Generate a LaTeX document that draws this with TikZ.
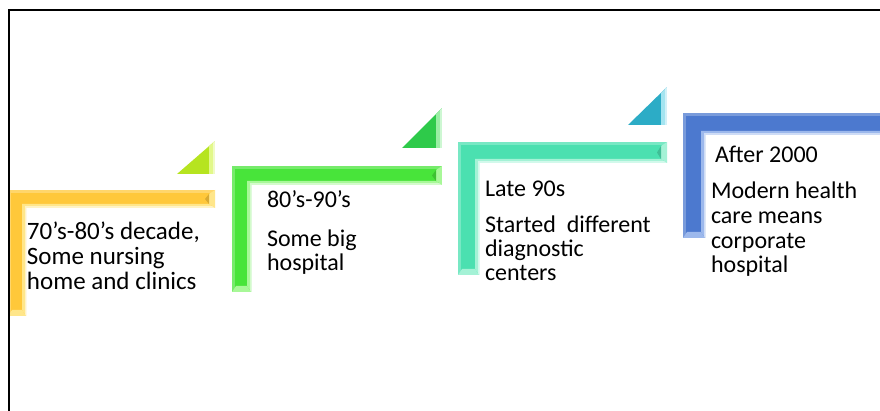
\documentclass[tikz,border=0pt]{standalone}
\usepackage{fontspec}
\setmainfont{Carlito}

% step colours: base, light bevel
\definecolor{yelBase}{HTML}{FFC83A}
\definecolor{yelLight}{HTML}{FFE68A}
\definecolor{grnBase}{HTML}{48E43A}
\definecolor{grnLight}{HTML}{A8F898}
\definecolor{tealBase}{HTML}{4BE0B0}
\definecolor{tealLight}{HTML}{A4F2D6}
\definecolor{bluBase}{HTML}{4C79CF}
\definecolor{bluLight}{HTML}{9CB8EC}
\definecolor{limeBase}{HTML}{B6E420}
\definecolor{limeLight}{HTML}{E2F88A}
\definecolor{leafBase}{HTML}{2ECA4A}
\definecolor{leafLight}{HTML}{9AEEA4}
\definecolor{aquaBase}{HTML}{2CACC6}
\definecolor{aquaLight}{HTML}{A4E4F0}

\tikzset{
  lbl/.style={anchor=base west, inner sep=0pt, outer sep=0pt,
              font=\fontsize{24}{24}\selectfont, text=black},
  lblbig/.style={lbl, font=\fontsize{25}{25}\selectfont},
  frameline/.style={draw=black, line width=1.8pt},
}

% bevelled L-shaped step: #1 base, #2 light, #3 x0, #4 y0 (top), #5 x1 (right end),
% #6 y2 (bottom end), #7 bar thickness
\newcommand\bevelStep[7]{%
  \begin{scope}
    \clip (#3,#4) -- (#5,#4) -- (#5,#4+#7) -- (#3+#7,#4+#7) -- (#3+#7,#6) -- (#3,#6) -- cycle;
    \fill[#1] (#3,#4) rectangle (#5,#6);
    % soft outer edge
    \fill[#1!75!white] (#3,#4) rectangle (#5,#4+3);
    \fill[#1!75!white] (#3,#4) rectangle (#3+3,#6);
    % inner chamfer
    \fill[#2] (#3+#7-4,#4+#7-4) -- (#5-6,#4+#7-4) -- (#5,#4+#7) -- (#3+#7,#4+#7) -- (#3+#7,#6) -- (#3+#7-4,#6-6) -- cycle;
    \fill[white!50!#2] (#3+#7-1.5,#4+#7-1.5) rectangle (#5,#4+#7);
    \fill[white!50!#2] (#3+#7-1.5,#4+#7-1.5) rectangle (#3+#7,#6);
    % end caps
    \fill[#2] (#5-6,#4+4) -- (#5,#4) -- (#5,#4+#7) -- (#5-6,#4+#7-4) -- cycle;
    \fill[#1!85!black] (#5-6,#4+4) -- (#5-6,#4+#7-4) -- (#5-10,#4+#7/2) -- cycle;
    \fill[#2] (#3+4,#6-6) -- (#3+#7-4,#6-6) -- (#3+#7,#6) -- (#3,#6) -- cycle;
  \end{scope}}

% bevelled corner triangle: #1 base, #2 light, #3 x left, #4 y bottom, #5 x right, #6 y top
\newcommand\bevelTri[6]{%
  \begin{scope}
    \clip (#3,#4) -- (#5,#4) -- (#5,#6) -- cycle;
    \fill[#1] (#3,#4) rectangle (#5,#6);
    \fill[#2] (#5-6,#6) rectangle (#5,#4);
    \fill[white!50!#2] (#5-2,#6) rectangle (#5,#4);
  \end{scope}}

\begin{document}
\begin{tikzpicture}[x=1pt, y=-1pt]
  \useasboundingbox (0,0) rectangle (880,411);
  \fill[white] (0,0) rectangle (880,411);

  % steps
  \bevelStep{yelBase}{yelLight}{8}{190}{215}{316}{18}
  \bevelStep{grnBase}{grnLight}{232}{166}{442}{292}{19}
  \bevelStep{tealBase}{tealLight}{458}{142}{667}{275}{21}
  \bevelStep{bluBase}{bluLight}{683}{113}{890}{238}{22}

  % corner triangles
  \bevelTri{limeBase}{limeLight}{177}{174}{215}{141}
  \bevelTri{leafBase}{leafLight}{402}{148}{442}{108}
  \bevelTri{aquaBase}{aquaLight}{628}{125}{667}{87}

  % texts
  \node[lblbig] (y1) at (27,240) {70’s-80’s decade,};
  \node[lblbig] (y2) at (27,265) {Some nursing};
  \node[lblbig] (y3) at (27,290) {home and clinics};

  \node[lbl] (g1) at (267,208) {80’s-90’s};
  \node[lbl] (g2) at (267,247) {Some big};
  \node[lbl] (g3) at (267,271) {hospital};

  \node[lbl] (t1) at (485,197) {Late 90s};
  \node[lbl] (t2) at (485,233) {Started\ \ different};
  \node[lbl] (t3) at (485,257) {diagnostic};
  \node[lbl] (t4) at (485,281) {centers};

  \node[lbl] (b1) at (715,163) {After 2000};
  \node[lbl] (b2) at (711,199) {Modern health};
  \node[lbl] (b3) at (711,224) {care means};
  \node[lbl] (b4) at (711,249) {corporate};
  \node[lbl] (b5) at (711,273) {hospital};

  % frame
  \draw[frameline] (880,10) -- (9,10) -- (9,411);
\end{tikzpicture}
\end{document}
